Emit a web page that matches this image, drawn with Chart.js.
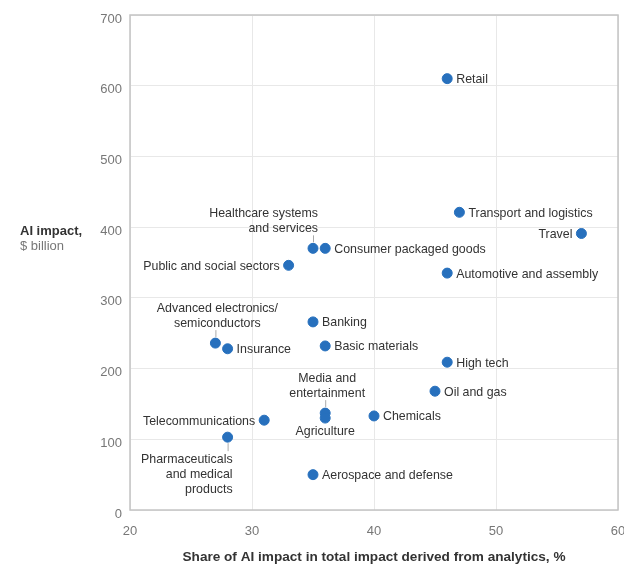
<!DOCTYPE html>
<html>
<head>
<meta charset="utf-8">
<script src="https://cdn.jsdelivr.net/npm/chart.js@4/dist/chart.umd.min.js"></script>
<style>
  html, body { margin: 0; padding: 0; background: #fff; }
  #wrap { width: 624px; height: 567px; }
</style>
</head>
<body>
<div id="wrap"><canvas id="aiChart"></canvas></div>
<script>
// sectors and their values
const sectors = [
  'Retail', 'Transport and logistics', 'Travel', 'Consumer packaged goods',
  'Healthcare systems and services', 'Public and social sectors', 'Automotive and assembly',
  'Banking', 'Advanced electronics/ semiconductors', 'Insurance', 'Basic materials',
  'High tech', 'Oil and gas', 'Chemicals', 'Media and entertainment', 'Agriculture',
  'Telecommunications', 'Pharmaceuticals and medical products', 'Aerospace and defense'
];
const analyticsShare = [46, 47, 57, 36, 35, 33, 46, 35, 27, 28, 36, 46, 45, 40, 36, 36, 31, 28, 35];
const aiImpact = [610, 421, 391, 370, 370, 346, 335, 266, 236, 228, 232, 209, 168, 133, 137, 130, 127, 103, 50];
const xTicks = [20, 30, 40, 50, 60];
const yTicks = [0, 100, 200, 300, 400, 500, 600, 700];

// how each label sits next to its dot
const labelLines = {
  'Healthcare systems and services': ['Healthcare systems', 'and services'],
  'Advanced electronics/ semiconductors': ['Advanced electronics/', 'semiconductors'],
  'Media and entertainment': ['Media and', 'entertainment'],
  'Pharmaceuticals and medical products': ['Pharmaceuticals', 'and medical', 'products']
};
const labelSide = {
  'Travel': 'left', 'Public and social sectors': 'left', 'Telecommunications': 'left',
  'Healthcare systems and services': 'aboveRight', 'Advanced electronics/ semiconductors': 'above',
  'Media and entertainment': 'above', 'Agriculture': 'below',
  'Pharmaceuticals and medical products': 'belowRight'
};

const points = sectors.map((s, i) => ({ x: analyticsShare[i], y: aiImpact[i], name: s }));

const labelPlugin = {
  id: 'labels',
  afterDatasetsDraw(chart) {
    const ctx = chart.ctx;
    const meta = chart.getDatasetMeta(0);
    ctx.save();
    ctx.font = '12.4px "Liberation Sans", Arial, sans-serif';
    ctx.fillStyle = '#333';
    ctx.strokeStyle = '#aaa';
    ctx.lineWidth = 1;
    meta.data.forEach((el, i) => {
      const name = sectors[i];
      const lines = labelLines[name] || [name];
      const side = labelSide[name] || 'right';
      const px = el.x, py = el.y;
      const lh = 15;
      if (side === 'right' || side === 'left') {
        ctx.textBaseline = 'middle';
        ctx.textAlign = side === 'right' ? 'left' : 'right';
        ctx.fillText(lines[0], side === 'right' ? px + 9 : px - 9, py + 1);
      } else if (side === 'above' || side === 'aboveRight') {
        ctx.beginPath(); ctx.moveTo(px + 0.5, py - 13); ctx.lineTo(px + 0.5, py - 6); ctx.stroke();
        ctx.textBaseline = 'middle';
        ctx.textAlign = side === 'above' ? 'center' : 'right';
        const tx = side === 'above' ? px + 2 : px + 5;
        lines.forEach((t, k) => ctx.fillText(t, tx, py - 20 - (lines.length - 1 - k) * lh));
      } else {
        ctx.textBaseline = 'middle';
        if (side === 'belowRight') {
          ctx.beginPath(); ctx.moveTo(px + 0.5, py + 6); ctx.lineTo(px + 0.5, py + 14); ctx.stroke();
          ctx.textAlign = 'right';
          lines.forEach((t, k) => ctx.fillText(t, px + 5, py + 22 + k * lh));
        } else {
          ctx.textAlign = 'center';
          lines.forEach((t, k) => ctx.fillText(t, px, py + 14 + k * lh));
        }
      }
    });
    ctx.restore();
  },
  beforeDatasetsDraw(chart) {
    const { ctx, chartArea: a } = chart;
    ctx.save();
    ctx.strokeStyle = '#c4c4c4';
    ctx.lineWidth = 1.5;
    ctx.strokeRect(a.left, a.top, a.right - a.left, a.bottom - a.top);
    ctx.restore();
  },
  afterDraw(chart) {
    const ctx = chart.ctx;
    ctx.save();
    ctx.textBaseline = 'middle';
    ctx.textAlign = 'left';
    ctx.fillStyle = '#333';
    ctx.font = 'bold 13px "Liberation Sans", Arial, sans-serif';
    ctx.fillText('AI impact,', 20, 231);
    ctx.fillStyle = '#777';
    ctx.font = '13px "Liberation Sans", Arial, sans-serif';
    ctx.fillText('$ billion', 20, 246);
    ctx.fillStyle = '#333';
    ctx.font = 'bold 13.6px "Liberation Sans", Arial, sans-serif';
    ctx.textAlign = 'center';
    ctx.fillText('Share of AI impact in total impact derived from analytics, %', 374, 557);
    ctx.restore();
  }
};

new Chart(document.getElementById('aiChart').getContext('2d'), {
  type: 'scatter',
  data: {
    datasets: [{
      label: 'AI impact',
      data: points,
      backgroundColor: '#2770bd',
      borderColor: '#2770bd',
      pointRadius: 5,
      pointHoverRadius: 5
    }]
  },
  options: {
    responsive: true,
    maintainAspectRatio: false,
    animation: false,
    layout: { padding: { top: 15, right: 6, left: 0, bottom: 0 } },
    plugins: { legend: { display: false }, tooltip: { enabled: false } },
    scales: {
      x: {
        type: 'linear', min: 20, max: 60,
        afterBuildTicks: s => { s.ticks = xTicks.map(v => ({ value: v })); },
        afterFit: s => { s.height = 57; s.paddingLeft = 0; s.paddingRight = 0; },
        grid: { color: '#e8e8e8', drawTicks: false },
        border: { display: false },
        ticks: { color: '#777', padding: 14, font: { family: '"Liberation Sans", Arial, sans-serif', size: 13 } }
      },
      y: {
        type: 'linear', min: 0, max: 700,
        afterBuildTicks: s => { s.ticks = yTicks.map(v => ({ value: v })); },
        afterFit: s => { s.width = 130; s.paddingTop = 0; s.paddingBottom = 0; },
        grid: { color: '#e8e8e8', drawTicks: false },
        border: { display: false },
        ticks: { color: '#777', padding: 8, labelOffset: 4, font: { family: '"Liberation Sans", Arial, sans-serif', size: 13 } }
      }
    }
  },
  plugins: [labelPlugin]
});
</script>
</body>
</html>
